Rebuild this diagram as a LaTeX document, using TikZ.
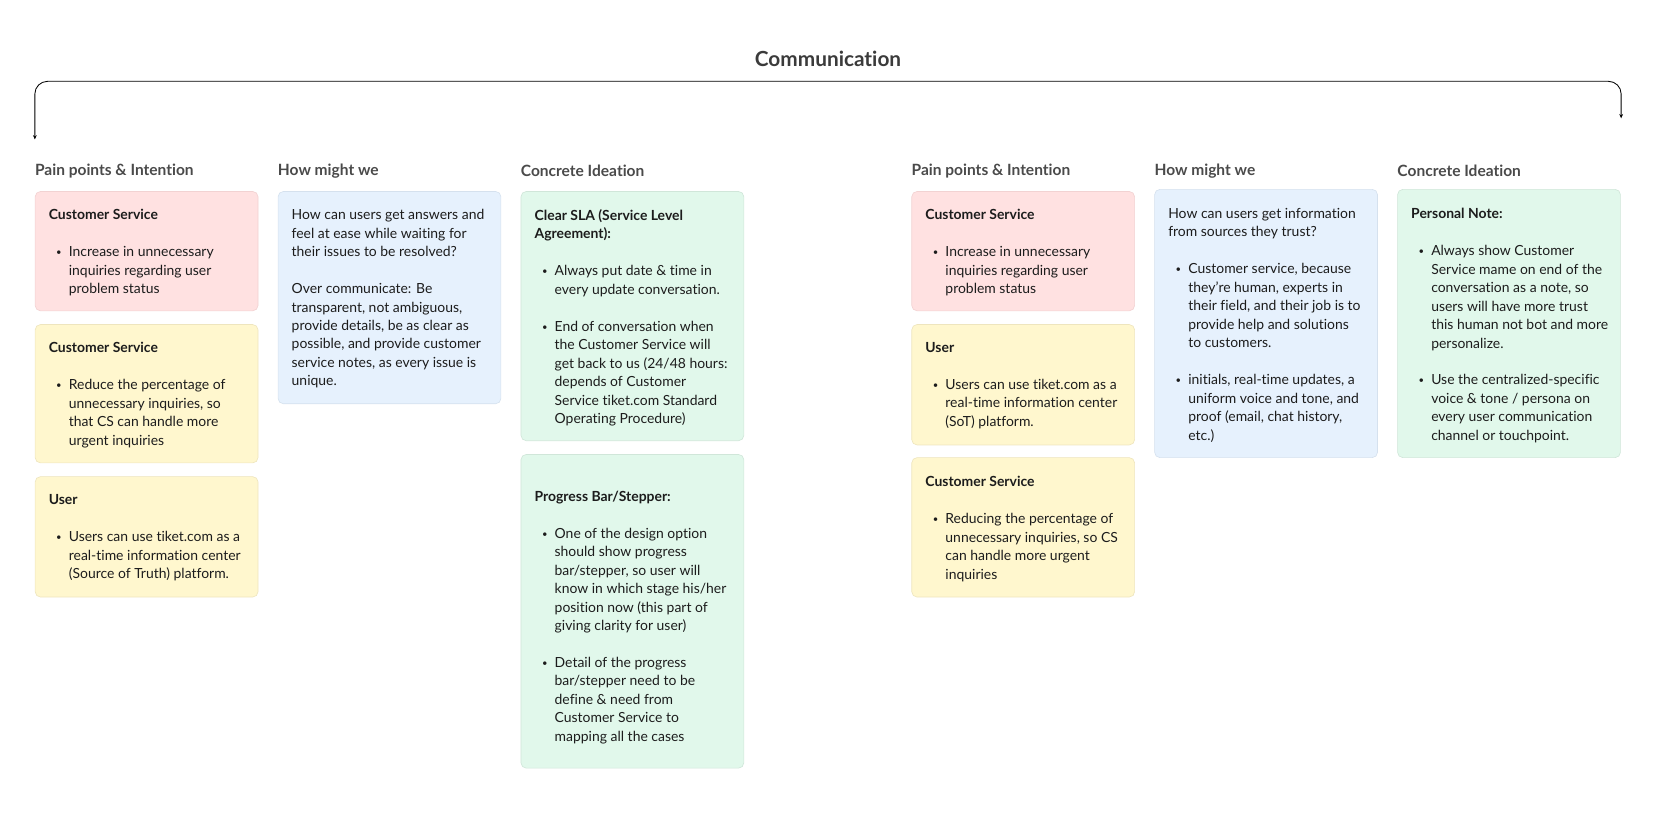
\documentclass[tikz,border=0pt]{standalone}
\usepackage{fontspec}
\setmainfont{Lato}[Ligatures={CommonOff}]
\usetikzlibrary{arrows.meta}
\definecolor{pinkc}{HTML}{FFE1E1}
\definecolor{pinkb}{HTML}{F2D2D2}
\definecolor{yelc}{HTML}{FFF7CE}
\definecolor{yelb}{HTML}{EEE5BE}
\definecolor{bluec}{HTML}{E6F1FD}
\definecolor{blueb}{HTML}{D5E1EE}
\definecolor{grnc}{HTML}{E1F8EB}
\definecolor{grnb}{HTML}{D0E6D9}
\definecolor{txtc}{HTML}{1C1C1C}
\definecolor{hdrc}{HTML}{4A4A4A}
\newcommand\bu{\makebox[19pt][l]{\hspace{7pt}\raisebox{1pt}{\fontsize{9}{9}\selectfont\textbullet}}}
\newcommand\bi{\hspace*{19pt}}
\begin{document}
\begin{tikzpicture}[x=1pt,y=-1pt,
  cardbox/.style={draw, line width=0.6pt, rounded corners=5pt, anchor=north west, minimum width=211pt, inner sep=0pt},
  txt/.style={anchor=north west, inner sep=0pt, align=left, text=txtc, font=\fontsize{13.2}{17.5}\selectfont},
  hdr/.style={anchor=west, inner sep=0pt, text=hdrc, font=\fontsize{14.7}{17}\selectfont\bfseries},
  ttl/.style={inner sep=0pt, text=hdrc!80!black, font=\fontsize{19.7}{22}\selectfont\bfseries}]
\useasboundingbox (0,0) rectangle (1568,773);

% title and bracket
\node[ttl] (title) at (784,56) {Communication};
\coordinate (bl) at (33,132);
\coordinate (blt) at (33,77);
\coordinate (brt) at (1535,77);
\coordinate (br) at (1535,112);
\draw[line width=0.8pt, rounded corners=12pt, {Stealth[length=4pt,width=3.5pt]}-{Stealth[length=4pt,width=3.5pt]}] (bl) -- (blt) -- (brt) -- (br);

% headers
\node[hdr] (h1) at (33,162) {Pain points \& Intention};
\node[hdr] (h2) at (263,162) {How might we};
\node[hdr] (h3) at (493,162) {Concrete Ideation};
\node[hdr] (h4) at (863,162) {Pain points \& Intention};
\node[hdr] (h5) at (1093,162) {How might we};
\node[hdr] (h6) at (1323,162) {Concrete Ideation};

% left group cards
\node[cardbox, fill=pinkc, draw=pinkb, minimum height=113pt] (a1) at (33,181) {};
\node[cardbox, fill=yelc, draw=yelb, minimum height=131pt] (a2) at (33,307) {};
\node[cardbox, fill=yelc, draw=yelb, minimum height=114pt] (a3) at (33,451) {};
\node[cardbox, fill=bluec, draw=blueb, minimum height=201pt] (b1) at (263,181) {};
\node[cardbox, fill=grnc, draw=grnb, minimum height=236pt] (c1) at (493,181) {};
\node[cardbox, fill=grnc, draw=grnb, minimum height=297pt] (c2) at (493,430) {};

% right group cards
\node[cardbox, fill=pinkc, draw=pinkb, minimum height=113pt] (d1) at (863,181) {};
\node[cardbox, fill=yelc, draw=yelb, minimum height=114pt] (d2) at (863,307) {};
\node[cardbox, fill=yelc, draw=yelb, minimum height=132pt] (d3) at (863,433) {};
\node[cardbox, fill=bluec, draw=blueb, minimum height=254pt] (e1) at (1093,179) {};
\node[cardbox, fill=grnc, draw=grnb, minimum height=254pt] (f1) at (1323,179) {};

% texts
\node[txt] (a1t) at ([xshift=13pt,yshift=-17pt]a1.north west) {\textbf{Customer Service}\\[17.5pt]
\bu Increase in unnecessary\\ \bi inquiries regarding user\\ \bi problem status};
\node[txt] (a2t) at ([xshift=13pt,yshift=-17pt]a2.north west) {\textbf{Customer Service}\\[17.5pt]
\bu Reduce the percentage of\\ \bi unnecessary inquiries, so\\ \bi that CS can handle more\\ \bi urgent inquiries};
\node[txt] (a3t) at ([xshift=13pt,yshift=-17pt]a3.north west) {\textbf{User}\\[17.5pt]
\bu Users can use tiket.com as a\\ \bi real-time information center\\ \bi (Source of Truth) platform.};
\node[txt] (b1t) at ([xshift=13pt,yshift=-17pt]b1.north west) {How can users get answers and\\ feel at ease while waiting for\\ their issues to be resolved?\\[17.5pt]
Over communicate: Be\\ transparent, not ambiguous,\\ provide details, be as clear as\\ possible, and provide customer\\ service notes, as every issue is\\ unique.};
\node[txt] (c1t) at ([xshift=13pt,yshift=-17pt]c1.north west) {\textbf{Clear SLA (Service Level}\\ \textbf{Agreement):}\\[17.5pt]
\bu Always put date \& time in\\ \bi every update conversation.\\[17.5pt]
\bu End of conversation when\\ \bi the Customer Service will\\ \bi get back to us (24/48 hours:\\ \bi depends of Customer\\ \bi Service tiket.com Standard\\ \bi Operating Procedure)};
\node[txt] (c2t) at ([xshift=13pt,yshift=-34.5pt]c2.north west) {\textbf{Progress Bar/Stepper:}\\[17.5pt]
\bu One of the design option\\ \bi should show progress\\ \bi bar/stepper, so user will\\ \bi know in which stage his/her\\ \bi position now (this part of\\ \bi giving clarity for user)\\[17.5pt]
\bu Detail of the progress\\ \bi bar/stepper need to be\\ \bi define \& need from\\ \bi Customer Service to\\ \bi mapping all the cases};
\node[txt] (d1t) at ([xshift=13pt,yshift=-17pt]d1.north west) {\textbf{Customer Service}\\[17.5pt]
\bu Increase in unnecessary\\ \bi inquiries regarding user\\ \bi problem status};
\node[txt] (d2t) at ([xshift=13pt,yshift=-17pt]d2.north west) {\textbf{User}\\[17.5pt]
\bu Users can use tiket.com as a\\ \bi real-time information center\\ \bi (SoT) platform.};
\node[txt] (d3t) at ([xshift=13pt,yshift=-18pt]d3.north west) {\textbf{Customer Service}\\[17.5pt]
\bu Reducing the percentage of\\ \bi unnecessary inquiries, so CS\\ \bi can handle more urgent\\ \bi inquiries};
\node[txt] (e1t) at ([xshift=13pt,yshift=-18pt]e1.north west) {How can users get information\\ from sources they trust?\\[17.5pt]
\bu Customer service, because\\ \bi they're human, experts in\\ \bi their field, and their job is to\\ \bi provide help and solutions\\ \bi to customers.\\[17.5pt]
\bu initials, real-time updates, a\\ \bi uniform voice and tone, and\\ \bi proof (email, chat history,\\ \bi etc.)};
\node[txt] (f1t) at ([xshift=13pt,yshift=-18pt]f1.north west) {\textbf{Personal Note:}\\[17.5pt]
\bu Always show Customer\\ \bi Service mame on end of the\\ \bi conversation as a note, so\\ \bi users will have more trust\\ \bi this human not bot and more\\ \bi personalize.\\[17.5pt]
\bu Use the centralized-specific\\ \bi voice \& tone / persona on\\ \bi every user communication\\ \bi channel or touchpoint.};
\end{tikzpicture}
\end{document}
